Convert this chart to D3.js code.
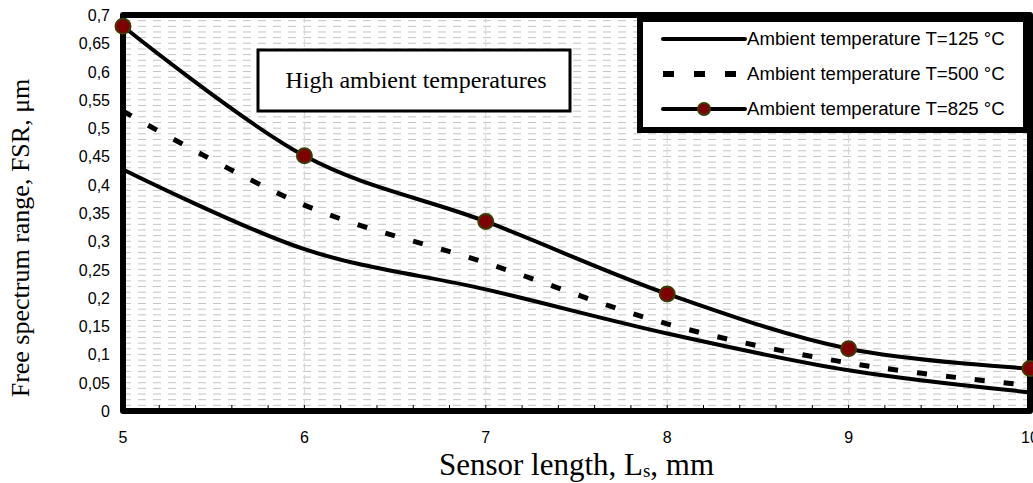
<!DOCTYPE html>
<html>
<head>
<meta charset="utf-8">
<script src="https://cdn.jsdelivr.net/npm/d3@7"></script>
<style>
body { margin:0; background:#fff; }
</style>
</head>
<body>
<div id="chart"></div>
<script>
const sensorLength = [5,6,7,8,9,10];
const fsr125 = [0.427,0.286,0.215,0.137,0.072,0.033];
const fsr500 = [0.53,0.364,0.262,0.154,0.085,0.045];
const fsr825 = [0.68,0.451,0.335,0.207,0.11,0.075];
const yTicks = [0,0.05,0.1,0.15,0.2,0.25,0.3,0.35,0.4,0.45,0.5,0.55,0.6,0.65,0.7];
const xTicks = [5,6,7,8,9,10];
const legendNames = ["Ambient temperature T=125 °C","Ambient temperature T=500 °C","Ambient temperature T=825 °C"];

const width = 1033;
const height = 483;
const plotLeft = 123;
const plotRight = 1030;
const plotTop = 15;
const plotBottom = 411;

const svg = d3.select("#chart")
    .append("svg")
    .attr("width",width)
    .attr("height",height);

const x = d3.scaleLinear().domain([5,10]).range([plotLeft,plotRight]);
const y = d3.scaleLinear().domain([0,0.7]).range([plotBottom,plotTop]);

const fmt = d => String(d).replace(".",",");

// minor grid, every 0.01
svg.append("g")
    .selectAll("line")
    .data(d3.range(1,70).map(i => i/100))
    .enter()
    .append("line")
    .attr("x1",plotLeft)
    .attr("x2",plotRight)
    .attr("y1",d => y(d))
    .attr("y2",d => y(d))
    .attr("stroke","#c4c4c4")
    .attr("stroke-width",1)
    .attr("stroke-dasharray","8,7");

svg.append("g")
    .selectAll("line")
    .data(xTicks.slice(1,-1))
    .enter()
    .append("line")
    .attr("x1",d => x(d))
    .attr("x2",d => x(d))
    .attr("y1",plotTop)
    .attr("y2",plotBottom)
    .attr("stroke","#d4d4d4")
    .attr("stroke-width",1)
    .attr("stroke-dasharray","8,4");

// small ticks on the bottom
svg.append("g")
    .selectAll("line")
    .data(d3.range(26).map(i => 5+i*0.2))
    .enter()
    .append("line")
    .attr("x1",d => x(d))
    .attr("x2",d => x(d))
    .attr("y1",plotBottom-6)
    .attr("y2",plotBottom)
    .attr("stroke","#000")
    .attr("stroke-width",1);

// y labels
svg.append("g")
    .selectAll("text")
    .data(yTicks)
    .enter()
    .append("text")
    .text(d => fmt(d))
    .attr("x",110)
    .attr("y",d => y(d)+6)
    .attr("text-anchor","end")
    .attr("font-family","Liberation Sans, Arial")
    .attr("font-size",16);

// x labels
svg.append("g")
    .selectAll("text")
    .data(xTicks)
    .enter()
    .append("text")
    .text(d => d)
    .attr("x",d => x(d))
    .attr("y",443)
    .attr("text-anchor","middle")
    .attr("font-family","Liberation Sans, Arial")
    .attr("font-size",16);

const xTitle = svg.append("text")
    .attr("x",(plotLeft+plotRight)/2)
    .attr("y",475)
    .attr("text-anchor","middle")
    .attr("font-family","Liberation Serif, Times New Roman")
    .attr("font-size",31);
xTitle.append("tspan").text("Sensor length, L");
xTitle.append("tspan").text("s").attr("font-size",19).attr("dy",2);
xTitle.append("tspan").text(", mm").attr("dy",-2);

svg.append("text")
    .text("Free spectrum range, FSR, μm")
    .attr("transform","translate(29,238) rotate(-90)")
    .attr("text-anchor","middle")
    .attr("font-family","Liberation Serif, Times New Roman")
    .attr("font-size",26);

// curves
const line = d3.line()
    .x((d,i) => x(sensorLength[i]))
    .y(d => y(d))
    .curve(d3.curveCardinal.tension(0));

svg.append("path")
    .attr("d",line(fsr125))
    .attr("fill","none")
    .attr("stroke","#000")
    .attr("stroke-width",4);

svg.append("path")
    .attr("d",line(fsr500))
    .attr("fill","none")
    .attr("stroke","#000")
    .attr("stroke-width",5)
    .attr("stroke-dasharray","10,19");

svg.append("path")
    .attr("d",line(fsr825))
    .attr("fill","none")
    .attr("stroke","#000")
    .attr("stroke-width",4);

// plot frame
svg.append("rect")
    .attr("x",plotLeft)
    .attr("y",plotTop)
    .attr("width",plotRight-plotLeft)
    .attr("height",plotBottom-plotTop)
    .attr("fill","none")
    .attr("stroke","#000")
    .attr("stroke-width",6)
    .attr("stroke-linejoin","round");

svg.append("g")
    .selectAll("circle")
    .data(fsr825)
    .enter()
    .append("circle")
    .attr("cx",(d,i) => x(sensorLength[i]))
    .attr("cy",d => y(d))
    .attr("r",7.5)
    .attr("fill","#7e0000")
    .attr("stroke","#3c3c06")
    .attr("stroke-width",2);

// text box
svg.append("rect")
    .attr("x",258)
    .attr("y",50)
    .attr("width",312)
    .attr("height",61)
    .attr("fill","#fff")
    .attr("stroke","#000")
    .attr("stroke-width",3);

svg.append("text")
    .text("High ambient temperatures")
    .attr("x",416)
    .attr("y",88)
    .attr("text-anchor","middle")
    .attr("font-family","Liberation Serif, Times New Roman")
    .attr("font-size",24);

// legend
const legend = svg.append("g");

legend.append("rect")
    .attr("x",640)
    .attr("y",19)
    .attr("width",386)
    .attr("height",111)
    .attr("fill","#fff")
    .attr("stroke","#000")
    .attr("stroke-width",6);

const legendRows = legend.selectAll("g")
    .data(legendNames)
    .enter()
    .append("g")
    .attr("transform",(d,i) => `translate(0,${39+i*35})`);

legendRows.append("line")
    .attr("x1",663)
    .attr("x2",745)
    .attr("stroke","#000")
    .attr("stroke-width",(d,i) => i==1 ? 6 : 4)
    .attr("stroke-dasharray",(d,i) => i==1 ? "11,20" : null)
    .attr("stroke-linecap",(d,i) => i==1 ? "butt" : "round");

legendRows.filter((d,i) => i==2)
    .append("circle")
    .attr("cx",704)
    .attr("r",6)
    .attr("fill","#7e0000")
    .attr("stroke","#3c3c06")
    .attr("stroke-width",2);

legendRows.append("text")
    .text(d => d)
    .attr("x",747)
    .attr("y",6)
    .attr("font-family","Liberation Sans, Arial")
    .attr("font-size",18.6);
</script>
</body>
</html>
